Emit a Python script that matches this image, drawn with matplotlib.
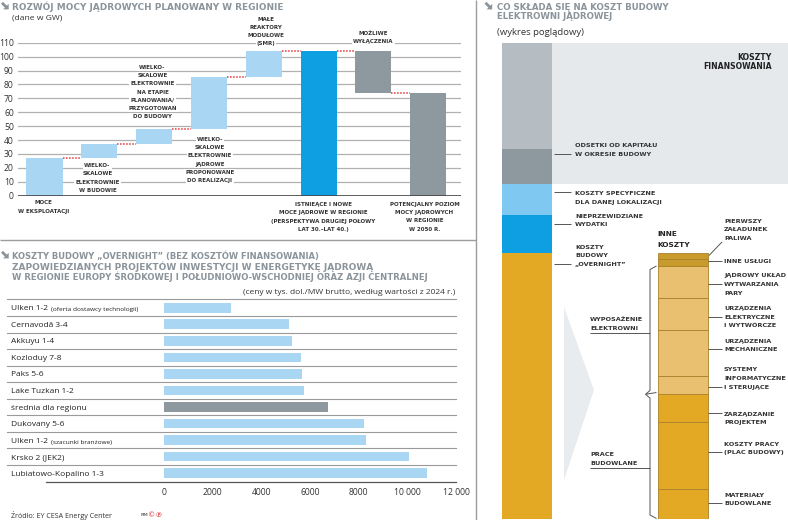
import matplotlib
matplotlib.use('Agg')
import matplotlib.pyplot as plt
import numpy as np
import matplotlib.transforms as mtransforms
from matplotlib.patches import Rectangle, Polygon

plt.rcParams['font.family'] = ['Open Sans', 'DejaVu Sans']
BOLDFAM = 'DejaVu Sans'

# ---------------- DATA ----------------
# Panel 1: waterfall (GW)
wf_step_labels = ['MOCE\nW EKSPLOATACJI',
                  'WIELKO-\nSKALOWE\nELEKTROWNIE\nW BUDOWIE',
                  'WIELKO-\nSKALOWE\nELEKTROWNIE\nNA ETAPIE\nPLANOWANIA/\nPRZYGOTOWAŃ\nDO BUDOWY',
                  'WIELKO-\nSKALOWE\nELEKTROWNIE\nJĄDROWE\nPROPONOWANE\nDO REALIZACJI',
                  'MAŁE\nREAKTORY\nMODUŁOWE\n(SMR)']
wf_steps = [27, 10, 11, 37, 19]
wf_total_label = 'ISTNIEĄCE I NOWE\nMOCE JĄDROWE W REGIONIE\n(PERSPEKTYWA DRUGIEJ POŁOWY\nLAT 30.–LAT 40.)'
wf_shutdown_label = 'MOŻLIWE\nWYŁĄCZENIA'
wf_shutdown = 30
wf_final_label = 'POTENCJALNY POZIOM\nMOCY JĄDROWYCH\nW REGIONIE\nW 2050 R.'
wf_yticks = list(range(0, 111, 10))

# Panel 2: overnight costs (tys. USD / MW)
cost_labels = ['Ulken 1-2', 'Cernavodă 3-4', 'Akkuyu 1-4', 'Kozloduy 7-8', 'Paks 5-6',
               'Lake Tuzkan 1-2', 'średnia dla regionu', 'Dukovany 5-6', 'Ulken 1-2',
               'Krsko 2 (JEK2)', 'Lubiatowo-Kopalino 1-3']
cost_notes = ['(oferta dostawcy technologii)', '', '', '', '', '', '', '',
              '(szacunki branżowe)', '', '']
cost_values = [2770, 5150, 5240, 5610, 5670, 5760, 6730, 8230, 8320, 10060, 10800]
cost_ticks = [0, 2000, 4000, 6000, 8000, 10000, 12000]
cost_ticklabels = ['0', '2000', '4000', '6000', '8000', '10 000', '12 000']

# Panel 3: illustrative cost structure (bottom -> top)
main_names = ['overnight', 'nieprzewidziane', 'specyficzne', 'odsetki', 'finansowanie_inne']
main_values = [55.8, 8.0, 6.6, 7.35, 22.25]
detail_names = ['materialy', 'praca', 'zarzadzanie', 'systemy', 'mechaniczne',
                'elektryczne', 'jadrowy', 'uslugi', 'paliwo']
detail_values = [6.4, 14.0, 5.75, 3.9, 9.6, 6.65, 6.85, 1.35, 1.4]

# ---------------- STYLE ----------------
W, H = 788, 520
DARK = '#333333'
TGREY = '#8b949b'
LBLUE = '#a9d6f3'
BLUE = '#0e9ee2'
GREY = '#8e989f'
RED = '#e0363a'
GOLD = '#e4a924'
TAN = '#e8c06f'
DGOLD = '#c99b2c'

fig = plt.figure(figsize=(W / 100, H / 100), dpi=100)


def box(x0, y0, x1, y1):
    return [x0 / W, 1 - y1 / H, (x1 - x0) / W, (y1 - y0) / H]


# ---------------- PANEL 1: waterfall ----------------
ax1 = fig.add_axes(box(18, 42.7, 461, 195.7))
n = len(wf_steps)
cum = np.cumsum(wf_steps)
total = cum[-1]
final = total - wf_shutdown
xs = np.arange(n + 3)
bottoms = list(cum - np.array(wf_steps)) + [0, final, 0]
heights = list(wf_steps) + [total, wf_shutdown, final]
colors = [LBLUE] * n + [BLUE, GREY, GREY]
bw = 0.657
ax1.bar(xs, heights, bw, bottom=bottoms, color=colors, zorder=2)
levels = list(cum) + [total, final]
for i in range(len(xs) - 1):
    ax1.plot([xs[i] + bw / 2, xs[i + 1] - bw / 2], [levels[i]] * 2, color=RED,
             lw=1.1, ls=(0, (1, 1)), zorder=3)
ax1.set_xlim(-0.4836, 7.6)
ax1.set_ylim(0, 110)
ax1.set_yticks(wf_yticks)
ax1.set_xticks([])
ax1.yaxis.grid(True, color='#b0b0b0', lw=0.9)
ax1.set_axisbelow(True)
for s in ax1.spines.values():
    s.set_visible(False)
ax1.axhline(0, color='#444444', lw=1.2, zorder=4)
ax1.tick_params(axis='y', length=0, pad=3, labelsize=6.2, labelcolor=DARK)

# ---------------- PANEL 2: bar chart ----------------
ax2 = fig.add_axes(box(164, 299.45, 456, 481.5))
yy = np.arange(len(cost_values))
ccol = [GREY if lab.startswith('średnia') else LBLUE for lab in cost_labels]
ax2.barh(yy, cost_values, height=0.58, color=ccol, zorder=2)
ax2.set_xlim(0, 12000)
ax2.set_ylim(len(cost_values) - 0.5, -0.5)
ax2.set_yticks([])
ax2.set_xticks(cost_ticks)
ax2.set_xticklabels(cost_ticklabels)
ax2.tick_params(axis='x', length=0, pad=5, labelsize=6.2, labelcolor=DARK)
for s in ax2.spines.values():
    s.set_visible(False)
for b in np.arange(-0.5, len(cost_values) - 1, 1):
    ax2.axhline(b, xmin=(7 - 164) / 292, xmax=1, color='#9a9a9a', lw=0.8, clip_on=False)
ax2.axhline(len(cost_values) - 0.5, xmin=(46 - 164) / 292, xmax=1, color='#555555',
            lw=0.9, clip_on=False)

# ---------------- PANEL 3: structure ----------------
ax3 = fig.add_axes(box(480, 42.7, 788, 519))
ax3.set_xlim(-0.302, 1.676)
ax3.set_ylim(0, sum(main_values))
ax3.axis('off')
cw = 0.321
main_colors = [GOLD, BLUE, '#7fc8f1', GREY, '#b5bdc3']
b = 0
for v, c in zip(main_values, main_colors):
    ax3.bar(0, v, cw, bottom=b, color=c, zorder=2)
    b += v
fin_bottom = sum(main_values[:3])
ax3.add_patch(Rectangle((cw / 2, fin_bottom), 1.676 - cw / 2, sum(main_values[3:]),
                        color='#e6e9ec', zorder=0, lw=0))
detail_colors = [GOLD] * 3 + [TAN] * 4 + [DGOLD] * 2
b = 0
for v, c in zip(detail_values, detail_colors):
    ax3.bar(1, v, cw, bottom=b, color=c, edgecolor='#a8812a', lw=0.6, zorder=2)
    b += v

# ---------------- OVERLAY (texts, decorations) ----------------
ov = fig.add_axes([0, 0, 1, 1], zorder=10)
ov.set_xlim(0, W)
ov.set_ylim(H, 0)
ov.axis('off')
R = fig.canvas.get_renderer()


def fam_for(weight):
    return [BOLDFAM] if weight == 'bold' else ['Open Sans', 'DejaVu Sans']


def size_for(s, width, weight='normal', base=6.0):
    t = ov.text(0, 0, s, fontsize=base, fontweight=weight, family=fam_for(weight))
    w = t.get_window_extent(R).width
    t.remove()
    return base * width / w


def txt(x, y, s, size=5.0, weight='normal', color=DARK, ha='left', va='center_baseline',
        bg=False, family=None, width=None):
    kw = {}
    if bg:
        kw['bbox'] = dict(boxstyle='square,pad=0.2', fc='white', ec='none')
    if width:
        size = size_for(s, width, weight)
    return ov.text(x, y, s, fontsize=size, fontweight=weight, color=color, ha=ha, va=va,
                   family=family or fam_for(weight), **kw)


def lines(x, y0, dy, ls, **kw):
    for i, s in enumerate(ls):
        txt(x, y0 + i * dy, s, **kw)


def seg(pts, color='#555555', lw=0.7):
    p = np.array(pts)
    ov.plot(p[:, 0], p[:, 1], color=color, lw=lw, solid_capstyle='butt')


def icon(x0, yc):
    # bold south-east arrow icon
    ov.plot([x0 + 0.5, x0 + 5.0], [yc - 3.2, yc + 1.3], color=TGREY, lw=2.0, solid_capstyle='butt')
    ov.add_patch(Polygon([(x0 + 7.2, yc + 3.4), (x0 + 7.2, yc - 2.2), (x0 + 1.6, yc + 3.4)],
                         closed=True, fc=TGREY, ec='none'))


# separators
seg([(476, 0), (476, 520)], color='#9c9c9c', lw=1.0)
seg([(0, 240), (476, 240)], color='#9c9c9c', lw=1.0)

# titles
for (ix, iy) in [(1.5, 6), (1.5, 255), (485, 6)]:
    icon(ix, iy)
txt(12.5, 6, 'ROZWÓJ MOCY JĄDROWYCH PLANOWANY W REGIONIE', width=268, weight='bold', color=TGREY)
txt(12, 17.3, '(dane w GW)', width=50)
p2_titles = [('KOSZTY BUDOWY „OVERNIGHT” (BEZ KOSZTÓW FINANSOWANIA)', 308),
             ('ZAPOWIEDZIANYCH PROJEKTÓW INWESTYCJI W ENERGETYKĘ JĄDROWĄ', 361),
             ('W REGIONIE EUROPY ŚRODKOWEJ I POŁUDNIOWO-WSCHODNIEJ ORAZ AZJI CENTRALNEJ', 418)]
for k, (s, wdt) in enumerate(p2_titles):
    txt(12, 255 + 10.4 * k, s, width=wdt, weight='bold', color=TGREY)
txt(455, 291.7, '(ceny w tys. dol./MW brutto, według wartości z 2024 r.)', ha='right', width=215)
t3 = size_for('CO SKŁADA SIĘ NA KOSZT BUDOWY', 172, 'bold')
lines(497, 6, 9.8, ['CO SKŁADA SIĘ NA KOSZT BUDOWY', 'ELEKTROWNI JĄDROWEJ'],
      size=t3, weight='bold', color=TGREY)
txt(497, 31.5, '(wykres poglądowy)', width=88)

# waterfall labels
lfs = size_for('(PERSPEKTYWA DRUGIEJ POŁOWY', 99, 'bold') * 1.06
wf_pos = [(43.5, 202.3, 8.4), (97.5, 165, 8.35), (152.5, 66.7, 8.3), (210, 138.7, 8.3),
          (266, 18.7, 8.2)]
for lab, (cx, y0, dy) in zip(wf_step_labels, wf_pos):
    lines(cx, y0, dy, lab.split('\n'), size=lfs, weight='bold', ha='center', bg=True)
lines(323.5, 203.7, 8.5, wf_total_label.split('\n'), size=lfs, weight='bold', ha='center', bg=True)
lines(373.5, 32.7, 8.7, wf_shutdown_label.split('\n'), size=lfs, weight='bold', ha='center', bg=True)
lines(424.5, 203.7, 8.4, wf_final_label.split('\n'), size=lfs, weight='bold', ha='center', bg=True)

# bar chart row labels
rfs = size_for('Lubiatowo-Kopalino 1-3', 93)
trans = mtransforms.blended_transform_factory(ov.transData, ax2.transData)
for i, (lab, note) in enumerate(zip(cost_labels, cost_notes)):
    t = ax2.text(11, i, lab, transform=trans, va='center_baseline', fontsize=rfs, color='#222222')
    if note:
        ax2.annotate(note, xy=(1, 0), xycoords=t, xytext=(2, 0), textcoords='offset points',
                     va='bottom', fontsize=rfs * 0.78, color='#222222')

# source
txt(11.5, 514.5, 'Źródło: EY CESA Energy Center', width=102)
txt(140.5, 514.5, 'RM', size=3.2, color='#777777', weight='bold')
txt(148, 514.5, '©℗', size=5.2, color=RED, family=['DejaVu Sans'])

# panel 3 labels
sfs = size_for('INFORMATYCZNE', 61.7, 'bold')
ffs = size_for('FINANSOWANIA', 69, 'bold')
txt(771.7, 56.7, 'KOSZTY', size=ffs, weight='bold', ha='right', color='#222222')
txt(771.7, 65.6, 'FINANSOWANIA', size=ffs, weight='bold', ha='right', color='#222222')

left_labels = [(145, 9, ['ODSETKI OD KAPITAŁU', 'W OKRESIE BUDOWY'], 154),
               (193, 9, ['KOSZTY SPECYFICZNE', 'DLA DANEJ LOKALIZACJI'], 192.3),
               (215.7, 8.6, ['NIEPRZEWIDZIANE', 'WYDATKI'], 224),
               (246.6, 8.7, ['KOSZTY', 'BUDOWY', '„OVERNIGHT”'], 264)]
for y0, dy, ls, ly in left_labels:
    lines(575, y0, dy, ls, size=sfs, weight='bold')
    seg([(554, ly), (571, ly)])

ik = size_for('KOSZTY', 33, 'bold')
txt(657.7, 233.3, 'INNE', size=ik, weight='bold', color='#222222')
txt(657.7, 244.3, 'KOSZTY', size=ik, weight='bold', color='#222222')

right_labels = [(221, 8.4, ['PIERWSZY', 'ZAŁADUNEK', 'PALIWA'], None),
                (260.7, 8.5, ['INNE USŁUGI'], 260.7),
                (275, 8.8, ['JĄDROWY UKŁAD', 'WYTWARZANIA', 'PARY'], 283.8),
                (308.3, 8.4, ['URZĄDZENIA', 'ELEKTRYCZNE', 'I WYTWÓRCZE'], 317),
                (340.7, 8.4, ['URZĄDZENIA', 'MECHANICZNE'], 349),
                (369.3, 8.7, ['SYSTEMY', 'INFORMATYCZNE', 'I STERUJĄCE'], 386.7),
                (414, 8.4, ['ZARZĄDZANIE', 'PROJEKTEM'], 413.3),
                (444, 8.4, ['KOSZTY PRACY', '(PLAC BUDOWY)'], 451.7),
                (495, 8.4, ['MATERIAŁY', 'BUDOWLANE'], 503.3)]
for y0, dy, ls, ly in right_labels:
    lines(724, y0, dy, ls, size=sfs, weight='bold')
    if ly is not None:
        seg([(708.5, ly), (722, ly)])
seg([(709, 255.5), (722, 242)])

# braces
lines(590, 319, 8.5, ['WYPOSAŻENIE', 'ELEKTROWNI'], size=sfs, weight='bold')
seg([(590, 333), (650, 333)])
lines(590, 454, 8.6, ['PRACE', 'BUDOWLANE'], size=sfs, weight='bold')
seg([(590, 468), (650, 468)])
seg([(656.5, 266), (650, 269.5), (650, 390.5), (645.5, 394.3), (656.5, 392.5)])
seg([(645.5, 394.3), (650, 398), (650, 515), (656.5, 518.5)])

# big arrow triangle
ov.add_patch(Polygon([(564, 307), (594, 390), (564, 480)], closed=True, fc='#e9ecef', ec='none'))

fig.savefig('out.png', dpi=100)
